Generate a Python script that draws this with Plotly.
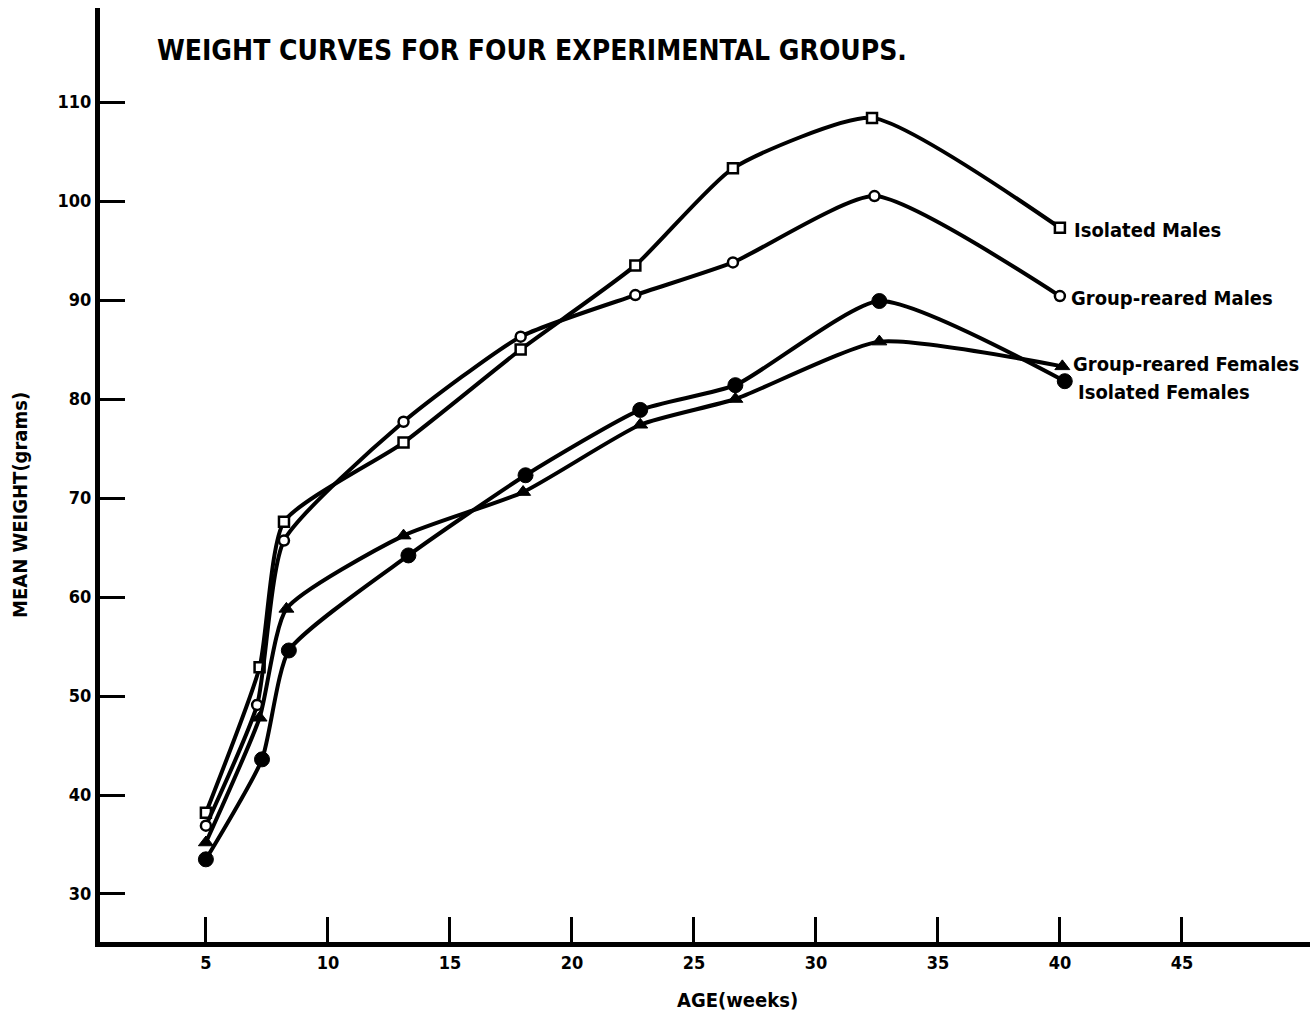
import plotly.graph_objects as go

# ---- data ----
im_x = [5, 7.2, 8.2, 13.1, 17.9, 22.6, 26.6, 32.3, 40]
im_y = [38.2, 52.9, 67.6, 75.6, 85.0, 93.5, 103.3, 108.4, 97.3]
gm_x = [5, 7.1, 8.2, 13.1, 17.9, 22.6, 26.6, 32.4, 40]
gm_y = [36.9, 49.1, 65.7, 77.7, 86.3, 90.5, 93.8, 100.5, 90.4]
gf_x = [5, 7.2, 8.3, 13.1, 18.0, 22.8, 26.7, 32.6, 40.1]
gf_y = [35.2, 47.8, 58.8, 66.2, 70.6, 77.4, 80.0, 85.8, 83.3]
if_x = [5, 7.3, 8.4, 13.3, 18.1, 22.8, 26.7, 32.6, 40.2]
if_y = [33.5, 43.6, 54.6, 64.2, 72.3, 78.9, 81.4, 89.9, 81.8]

series_names = ["Isolated Males", "Group-reared Males", "Group-reared Females", "Isolated Females"]
label_x = [40.5, 40.37, 40.45, 40.66]
label_y = [97.1, 90.2, 83.5, 80.7]

x_ticks = [5, 10, 15, 20, 25, 30, 35, 40, 45]
y_ticks = [30, 40, 50, 60, 70, 80, 90, 100, 110]

FONT = "DejaVu Sans Condensed, Liberation Sans Narrow, DejaVu Sans, sans-serif"


def f(size):
    return dict(family=FONT, size=size, color="black", weight="bold")


fig = go.Figure()

specs = [
    (im_x, im_y, dict(symbol="square", size=10, color="white", line=dict(color="black", width=2.5))),
    (gm_x, gm_y, dict(symbol="circle", size=10, color="white", line=dict(color="black", width=2.5))),
    (gf_x, gf_y, dict(symbol="triangle-up", size=13, color="black", line=dict(color="black", width=1))),
    (if_x, if_y, dict(symbol="circle", size=15, color="black", line=dict(color="black", width=1))),
]
for (xs, ys, mk), name in zip(specs, series_names):
    fig.add_trace(go.Scatter(
        x=xs, y=ys, name=name, mode="lines+markers",
        line=dict(color="black", width=4, shape="spline", smoothing=0.55),
        marker=mk, showlegend=False,
    ))

for name, lx, ly in zip(series_names, label_x, label_y):
    fig.add_annotation(x=lx, y=ly, xref="x", yref="y", text=name, showarrow=False,
                       xanchor="left", yanchor="middle", font=f(20))

fig.add_annotation(text="WEIGHT CURVES FOR FOUR EXPERIMENTAL GROUPS.",
                   xref="paper", yref="paper", x=(155 - 100) / 1210, y=(942 - 50) / 934,
                   xanchor="left", yanchor="middle", showarrow=False, font=f(28))
fig.add_annotation(text="AGE(weeks)", xref="paper", yref="paper",
                   x=(737 - 100) / 1210, y=-(1000 - 942) / 934,
                   xanchor="center", yanchor="middle", showarrow=False, font=f(20))
fig.add_annotation(text="MEAN WEIGHT(grams)", xref="paper", yref="paper",
                   x=-(100 - 20) / 1210, y=(942 - 505) / 934, textangle=-90,
                   xanchor="center", yanchor="middle", showarrow=False, font=f(20))

fig.update_xaxes(range=[0.66, 50.25], tickvals=x_ticks, ticks="inside", ticklen=25,
                 tickwidth=3, tickcolor="black", showline=True, linewidth=5, linecolor="black",
                 showgrid=False, zeroline=False, tickfont=f(18))
fig.update_yaxes(range=[25.15, 119.5], tickvals=y_ticks, ticks="inside", ticklen=25,
                 tickwidth=3, tickcolor="black", showline=True, linewidth=5, linecolor="black",
                 showgrid=False, zeroline=False, tickfont=f(18))

fig.update_layout(width=1315, height=1022, margin=dict(l=100, r=5, t=8, b=80),
                  plot_bgcolor="white", paper_bgcolor="white")

fig.write_html("out.html", config={"displayModeBar": False},
               post_script="document.body.style.margin='0';")
